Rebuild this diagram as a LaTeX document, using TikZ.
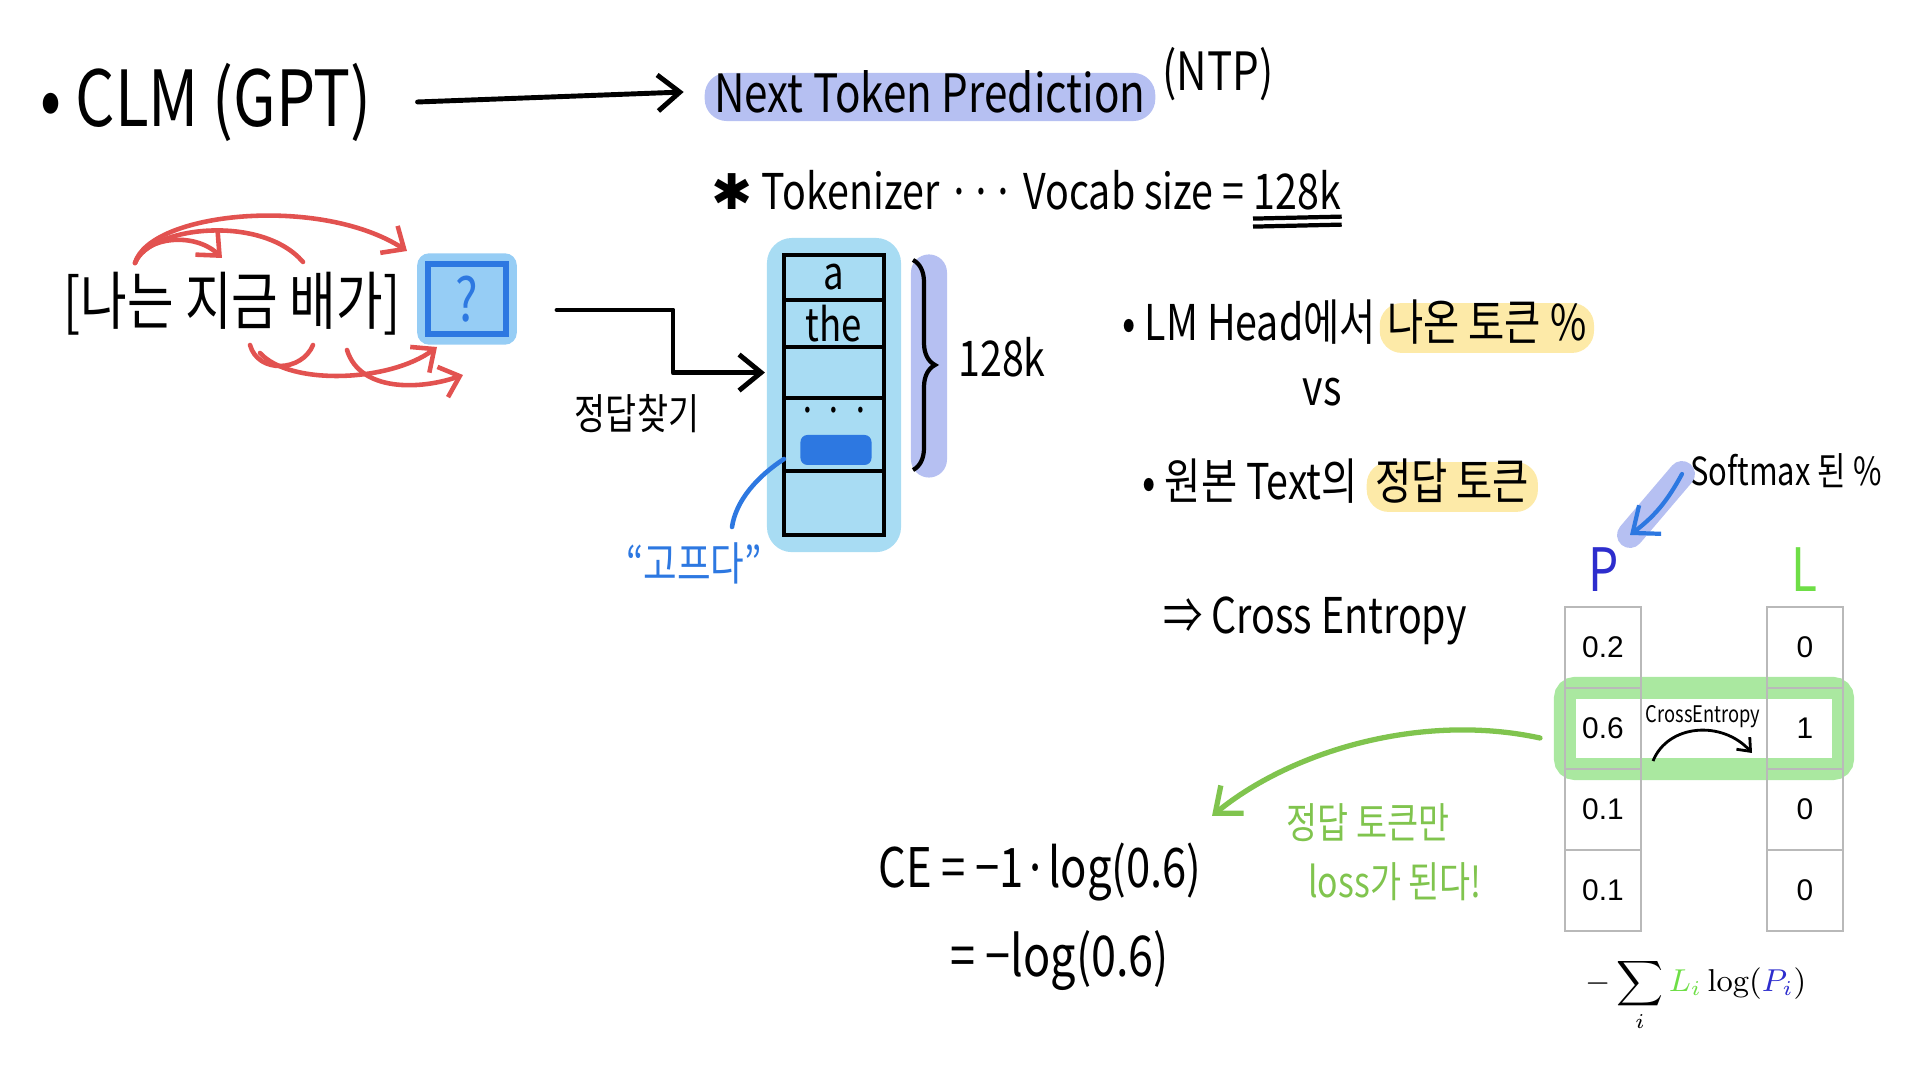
\documentclass[tikz,border=0pt]{standalone}
\usepackage{fontspec}
\usepackage{amsmath}
\usetikzlibrary{arrows.meta,positioning,fit,backgrounds,decorations.pathreplacing,calc}
\newfontfamily\hand[FakeStretch=0.8]{Noto Sans CJK KR}
\newfontfamily\cellfont{Liberation Sans}
\newfontfamily\symfont{DejaVu Sans}
\definecolor{hred}{RGB}{226,82,80}
\definecolor{hblue}{RGB}{45,120,225}
\definecolor{hlav}{RGB}{182,192,242}
\definecolor{hcyan}{RGB}{168,220,243}
\definecolor{hsky}{RGB}{150,205,245}
\definecolor{hyellow}{RGB}{253,234,168}
\definecolor{hgreen}{RGB}{128,196,78}
\definecolor{hlgreen}{RGB}{170,232,160}
\definecolor{pblue}{RGB}{45,45,205}
\definecolor{lgreen}{RGB}{110,222,70}

\begin{document}
\begin{tikzpicture}[
  x=0.01cm, y=-0.01cm,
  txt/.style={inner sep=0pt},
  big/.style={font={\hand\fontsize{22}{26}\selectfont}},
  mid/.style={font={\hand\fontsize{15}{18}\selectfont}},
  sml/.style={font={\hand\fontsize{14}{17}\selectfont}},
  tiny/.style={font={\hand\fontsize{11}{13}\selectfont}},
  flow/.style={-{Straight Barb[length=2.2mm,width=3.6mm]},line width=1.4pt,line cap=round,line join=round},
  redarc/.style={hred,line width=1.3pt,line cap=round},
  redhead/.style={redarc,-{Straight Barb[length=1.8mm,width=3.2mm]}},
  vrow/.style={draw,line width=1.2pt,minimum width=1cm,outer sep=0pt,inner sep=0pt,
    font={\hand\fontsize{13}{15}\selectfont}},
  cell/.style={draw=gray!55,line width=0.8pt,minimum width=0.76cm,minimum height=0.81cm,
    outer sep=0pt,font={\cellfont\fontsize{8.5}{10}\selectfont}},
  hilite/.style={inner sep=0pt,rounded corners=0.22cm}
]
\useasboundingbox (0,0) rectangle (1920,1080);

% top line
\node[txt,big,anchor=west] (clm) at (40,102) {• CLM (GPT)};
\node[txt,mid] (ntp) at (930,92) {Next Token Prediction};
\node[txt,mid,anchor=west] (ntpabbr) at (1162,74) {(NTP)};
\draw[flow] ([xshift=0.45cm]clm.east) -- ([xshift=-0.3cm]ntp.west);

\node[txt,sml,anchor=east] (tok) at (1245,190) {{\symfont ✱} Tokenizer ··· Vocab size =};
\node[txt,sml,right=0.08cm of tok] (vsz) {128k};
\draw[line width=1.2pt] ([yshift=-0.08cm]vsz.south west) -- ([yshift=-0.06cm]vsz.south east);
\draw[line width=1.2pt] ([yshift=-0.16cm]vsz.south west) -- ([yshift=-0.14cm]vsz.south east);

% sentence and question box
\node[txt,font={\hand\fontsize{18}{20}\selectfont}] (sent) at (232,304) {[나는 지금 배가]};
\node[draw=hblue,line width=1.6pt,fill=hsky,minimum width=0.78cm,minimum height=0.68cm,
  font={\hand\fontsize{17}{19}\selectfont},text=hblue] (q) at (467,299) {?};

\coordinate (a0) at (135,263);
\coordinate (a1) at (222,258);
\coordinate (a2) at (407,251);
\coordinate (a3) at (303,262);
\coordinate (b0) at (250,345);
\coordinate (b1) at (313,345);
\coordinate (b2) at (260,353);
\coordinate (b3) at (437,347);
\coordinate (b4) at (347,350);
\coordinate (b5) at (463,375);
\draw[redhead] (a0) .. controls (150,212) and (320,195) .. (a2);
\draw[redhead] (a0) .. controls (145,236) and (195,232) .. (a1);
\draw[redarc] (a0) .. controls (150,226) and (262,214) .. (a3);
\draw[redarc] (b0) .. controls (258,374) and (302,372) .. (b1);
\draw[redhead] (b2) .. controls (290,386) and (390,382) .. (b3);
\draw[redhead] (b4) .. controls (360,392) and (420,390) .. (b5);

% vocab column
\node[vrow,minimum height=0.45cm] (r1) at (834,277.5) {a};
\node[vrow,minimum height=0.47cm,below=0pt of r1] (r2) {the};
\node[vrow,minimum height=0.51cm,below=0pt of r2] (r3) {};
\node[vrow,minimum height=0.73cm,below=0pt of r3] (r4) {};
\node[vrow,minimum height=0.64cm,below=0pt of r4] (r5) {};
\node[txt,font={\hand\fontsize{12}{12}\selectfont}] (dots) at (834,416) {· · ·};
\node[fill=hblue,rounded corners=2pt,minimum width=0.71cm,minimum height=0.3cm,inner sep=0pt] (bar) at (836,450) {};

\coordinate (qout) at (557,310);
\draw[flow] (qout) -- ++(116,0) |- ([xshift=-0.19cm]r3.west);
\node[txt,font={\hand\fontsize{12}{14}\selectfont}] (findlbl) at (637,414) {정답찾기};

\node[txt,font={\hand\fontsize{13}{15}\selectfont},text=hblue] (hungry) at (694,563) {“고프다”};
\coordinate (barpt) at (784,459);
\coordinate (hungrytop) at (732,527);
\draw[hblue,line width=1.3pt,line cap=round] (barpt) .. controls (758,476) and (736,500) .. (hungrytop);

\node[fill=hlav,rounded corners=0.18cm,minimum width=0.36cm,minimum height=2.23cm,inner sep=0pt] (bstrip) at (929,366) {};
\coordinate (btop) at (913,260);
\coordinate (bbot) at (913,470);
\draw[decorate,decoration={brace,amplitude=0.22cm},line width=1.2pt] (btop) -- (bbot);
\node[txt,sml] (vocab) at (1002,357) {128k};

% comparison text
\node[txt,sml,anchor=west] (lmh) at (1122,322) {• LM Head에서};
\node[txt,sml,right=0.1cm of lmh] (lmtok) {나온 토큰 \%};
\node[txt,sml] (vs) at (1322,392) {vs};
\node[txt,sml,anchor=west] (orig) at (1142,481) {• 원본 Text의};
\node[txt,sml,right=0.16cm of orig] (origtok) {정답 토큰};
\node[txt,sml] (ce) at (1315,621) {⇒ Cross Entropy};

\node[txt,tiny] (smx) at (1786,471) {Softmax 된 \%};
\coordinate (smxa) at (1682,474);
\coordinate (smxb) at (1630,535);
\draw[hlav,line width=0.26cm,line cap=round] (smxa) -- (smxb);
\draw[flow,hblue,line width=1.2pt] (smxa) to[bend left=12] (smxb);

% table
\node[txt,font={\hand\fontsize{17}{19}\selectfont},text=pblue] (plbl) at (1604,570) {P};
\node[txt,font={\hand\fontsize{17}{19}\selectfont},text=lgreen] (llbl) at (1804,570) {L};
\foreach \v [count=\i] in {0.2,0.6,0.1,0.1}
  \node[cell] (p\i) at (1603,{566.5+81*\i}) {\v};
\foreach \v [count=\i] in {0,1,0,0}
  \node[cell] (l\i) at (1805,{566.5+81*\i}) {\v};

\node[txt,font={\hand\fontsize{6.5}{8}\selectfont}] (celbl) at (1703,717) {CrossEntropy};
\coordinate (cea) at (1653,761);
\coordinate (ceb) at (1752,753);
\draw[-{Straight Barb[length=1.1mm,width=1.8mm]},line width=0.8pt] (cea) .. controls (1668,724) and (1722,720) .. (ceb);

\node[txt,font={\fontsize{9}{11}\selectfont}] (sumf) at (1696,995)
  {$\displaystyle -\sum_i {\color{lgreen}L_i}\log({\color{pblue}P_i})$};

% loss part
\coordinate (gstart) at (1540,738);
\coordinate (gend) at (1212,816);
\draw[flow,hgreen,line width=1.5pt] (gstart) .. controls (1420,712) and (1290,752) .. (gend);
\node[txt,text=hgreen,font={\hand\fontsize{12}{14}\selectfont}] (gt1) at (1368,823) {정답 토큰만};
\node[txt,text=hgreen,font={\hand\fontsize{12}{14}\selectfont}] (gt2) at (1395,882) {loss가 된다!};

\node[txt,font={\hand\fontsize{15.5}{18}\selectfont}] (ce1) at (1040,872) {CE = −1·log(0.6)};
\node[txt,font={\hand\fontsize{16}{18}\selectfont}] (ce2) at (1060,961) {= −log(0.6)};

% highlights behind
\begin{scope}[on background layer]
  \node[hilite,fill=hlav,fit=(ntp),inner xsep=0.09cm,inner ysep=0.02cm,yshift=-0.05cm] (ntphl) {};
  \node[hilite,fill=hsky,fit=(q),inner sep=0.08cm,rounded corners=0.12cm] (qglow) {};
  \node[hilite,fill=hcyan,fit=(r1)(r5),inner xsep=0.17cm,inner ysep=0.17cm,rounded corners=0.25cm] (vglow) {};
  \node[hilite,fill=hyellow,fit=(lmtok),inner xsep=0.07cm,inner ysep=0.02cm,yshift=-0.06cm] (lmhl) {};
  \node[hilite,fill=hyellow,fit=(origtok),inner xsep=0.08cm,inner ysep=0.02cm,yshift=-0.06cm] (orighl) {};
  \node[fit=(p2)(l2),draw=hlgreen,line width=0.22cm,rounded corners=0.1cm,inner sep=0pt] (cehl) {};
\end{scope}
\end{tikzpicture}
\end{document}
